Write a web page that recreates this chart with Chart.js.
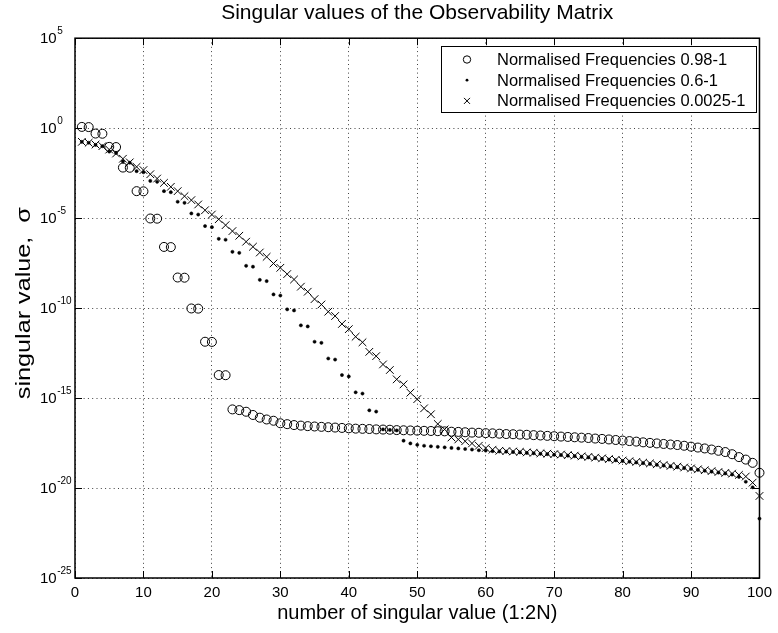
<!DOCTYPE html>
<html>
<head>
<meta charset="utf-8">
<script src="https://cdn.jsdelivr.net/npm/chart.js@4.4.0/dist/chart.umd.min.js"></script>
<style>
  html, body { margin: 0; padding: 0; background: #fff; }
  #wrap { width: 778px; height: 633px; }
</style>
</head>
<body>
<div id="wrap"><canvas id="svChart" width="778" height="633"></canvas></div>
<script>
// ============================================
// DATA (log10 of sigma)
// ============================================

// singular value number (1:2N)
const svIndex = [
    1, 2, 3, 4, 5, 6, 7, 8, 9, 10,
    11, 12, 13, 14, 15, 16, 17, 18, 19, 20,
    21, 22, 23, 24, 25, 26, 27, 28, 29, 30,
    31, 32, 33, 34, 35, 36, 37, 38, 39, 40,
    41, 42, 43, 44, 45, 46, 47, 48, 49, 50,
    51, 52, 53, 54, 55, 56, 57, 58, 59, 60,
    61, 62, 63, 64, 65, 66, 67, 68, 69, 70,
    71, 72, 73, 74, 75, 76, 77, 78, 79, 80,
    81, 82, 83, 84, 85, 86, 87, 88, 89, 90,
    91, 92, 93, 94, 95, 96, 97, 98, 99, 100
];

// Normalised Frequencies 0.98-1 (circles)
const logSigmaNarrow = [
    0.07, 0.06, -0.30, -0.31, -1.04, -1.05, -2.19, -2.20, -3.50, -3.51,
    -5.02, -5.03, -6.60, -6.61, -8.30, -8.31, -10.02, -10.03, -11.87, -11.88,
    -13.72, -13.73, -15.63, -15.67, -15.76, -15.94, -16.09, -16.19, -16.26, -16.40,
    -16.45, -16.50, -16.53, -16.56, -16.58, -16.60, -16.62, -16.64, -16.66, -16.68,
    -16.70, -16.71, -16.72, -16.74, -16.75, -16.76, -16.78, -16.79, -16.80, -16.81,
    -16.82, -16.83, -16.84, -16.85, -16.87, -16.88, -16.90, -16.92, -16.93, -16.95,
    -16.96, -16.98, -17.00, -17.01, -17.03, -17.04, -17.06, -17.08, -17.10, -17.12,
    -17.14, -17.16, -17.18, -17.20, -17.22, -17.25, -17.27, -17.30, -17.33, -17.36,
    -17.39, -17.42, -17.46, -17.49, -17.52, -17.55, -17.58, -17.61, -17.65, -17.70,
    -17.75, -17.80, -17.86, -17.93, -18.00, -18.12, -18.28, -18.42, -18.60, -19.15
];

// Normalised Frequencies 0.6-1 (dots)
const logSigmaMid = [
    -0.76, -0.81, -0.93, -1.00, -1.30, -1.38, -1.85, -1.92, -2.39, -2.45,
    -2.93, -2.98, -3.50, -3.56, -4.09, -4.15, -4.74, -4.80, -5.44, -5.50,
    -6.15, -6.20, -6.87, -6.93, -7.65, -7.70, -8.43, -8.50, -9.24, -9.30,
    -10.07, -10.13, -10.96, -11.02, -11.87, -11.93, -12.80, -12.86, -13.72, -13.80,
    -14.68, -14.75, -15.68, -15.75, -16.74, -16.77, -16.80, -17.37, -17.52, -17.60,
    -17.65, -17.68, -17.71, -17.74, -17.77, -17.80, -17.83, -17.86, -17.90, -17.92,
    -17.95, -17.97, -17.98, -18.00, -18.02, -18.05, -18.07, -18.10, -18.12, -18.15,
    -18.17, -18.20, -18.23, -18.27, -18.30, -18.34, -18.38, -18.42, -18.46, -18.50,
    -18.54, -18.58, -18.62, -18.66, -18.71, -18.75, -18.80, -18.84, -18.89, -18.94,
    -18.99, -19.04, -19.09, -19.14, -19.19, -19.25, -19.38, -19.65, -19.96, -21.70
];

// Normalised Frequencies 0.0025-1 (crosses)
const logSigmaWide = [
    -0.76, -0.81, -0.91, -1.00, -1.19, -1.41, -1.70, -1.90, -2.15, -2.33,
    -2.56, -2.80, -3.04, -3.26, -3.50, -3.78, -4.00, -4.24, -4.56, -4.80,
    -5.06, -5.39, -5.72, -5.98, -6.31, -6.59, -6.91, -7.15, -7.52, -7.76,
    -8.11, -8.41, -8.81, -9.09, -9.50, -9.80, -10.20, -10.44, -10.88, -11.17,
    -11.59, -11.90, -12.43, -12.67, -13.13, -13.44, -13.96, -14.24, -14.70, -15.06,
    -15.57, -15.90, -16.44, -16.74, -17.19, -17.30, -17.40, -17.52, -17.65, -17.78,
    -17.87, -17.93, -17.95, -17.97, -17.99, -18.02, -18.04, -18.07, -18.09, -18.12,
    -18.14, -18.17, -18.20, -18.24, -18.27, -18.31, -18.35, -18.39, -18.43, -18.47,
    -18.51, -18.55, -18.59, -18.63, -18.68, -18.72, -18.77, -18.81, -18.86, -18.91,
    -18.96, -19.01, -19.06, -19.11, -19.16, -19.20, -19.27, -19.36, -19.70, -20.44
];

const seriesNames = [
    'Normalised Frequencies 0.98-1',
    'Normalised Frequencies 0.6-1',
    'Normalised Frequencies 0.0025-1'
];

// y tick exponents (10^p)
const yTickPowers = [5, 0, -5, -10, -15, -20, -25];

const yAxisLabel = 'singular value,  σ';

const FONT = '"Liberation Sans", Arial, Helvetica, sans-serif';

// turn index + log10 list into scatter points
function toPoints(logs) {
    return svIndex.map((n, i) => ({ x: n, y: Math.pow(10, logs[i]) }));
}

// ============================================
// MATLAB-like frame: box, inward ticks, 10^p labels, legend
// ============================================
const matlabFrame = {
    id: 'matlabFrame',
    afterDraw(chart) {
        const ctx = chart.ctx;
        const area = chart.chartArea;
        const xs = chart.scales.x;
        const ys = chart.scales.y;
        const tickLen = 7;

        ctx.save();
        ctx.strokeStyle = '#000';
        ctx.lineWidth = 1;

        // inward tick marks on all four sides
        ctx.beginPath();
        xs.ticks.forEach(t => {
            const px = Math.round(xs.getPixelForValue(t.value)) + 0.5;
            ctx.moveTo(px, area.bottom); ctx.lineTo(px, area.bottom - tickLen);
            ctx.moveTo(px, area.top); ctx.lineTo(px, area.top + tickLen);
        });
        yTickPowers.forEach(p => {
            const py = Math.round(ys.getPixelForValue(Math.pow(10, p))) + 0.5;
            ctx.moveTo(area.left, py); ctx.lineTo(area.left + tickLen, py);
            ctx.moveTo(area.right, py); ctx.lineTo(area.right - tickLen, py);
        });
        ctx.stroke();

        // axes box
        ctx.lineWidth = 1.5;
        ctx.strokeRect(area.left, area.top, area.right - area.left, area.bottom - area.top);

        // y tick labels with superscript exponents
        ctx.fillStyle = '#000';
        ctx.textAlign = 'left';
        ctx.textBaseline = 'middle';
        yTickPowers.forEach(p => {
            const py = ys.getPixelForValue(Math.pow(10, p));
            ctx.font = '15px ' + FONT;
            ctx.fillText('10', 40, py + 1);
            const w = ctx.measureText('10').width;
            ctx.font = '10px ' + FONT;
            ctx.fillText(String(p), 40 + w + 0.5, py - 7);
        });

        // y axis label (rotated, a little stretched along its length like the original)
        ctx.save();
        ctx.translate(24, (area.top + area.bottom) / 2 - 5);
        ctx.rotate(-Math.PI / 2);
        ctx.scale(1.2, 1);
        ctx.font = '21px ' + FONT;
        ctx.textAlign = 'center';
        ctx.textBaseline = 'middle';
        ctx.fillText(yAxisLabel, 0, 0);
        ctx.restore();

        // legend box
        const lx = 441, ly = 46, lw = 315, lh = 66;
        ctx.fillStyle = '#fff';
        ctx.fillRect(lx, ly, lw, lh);
        ctx.lineWidth = 1;
        ctx.strokeRect(lx + 0.5, ly + 0.5, lw, lh);

        const rowY = [59.5, 80.2, 100.9];
        const mx = 467;
        ctx.fillStyle = '#000';
        ctx.font = '16.5px ' + FONT;
        ctx.textBaseline = 'middle';
        seriesNames.forEach((name, i) => {
            const y = rowY[i];
            ctx.beginPath();
            if (i === 0) {
                ctx.arc(mx, y, 3.7, 0, Math.PI * 2);
                ctx.stroke();
            } else if (i === 1) {
                ctx.arc(mx, y, 1.4, 0, Math.PI * 2);
                ctx.fill();
            } else {
                ctx.moveTo(mx - 3, y - 3); ctx.lineTo(mx + 3, y + 3);
                ctx.moveTo(mx - 3, y + 3); ctx.lineTo(mx + 3, y - 3);
                ctx.stroke();
            }
            ctx.fillText(name, 497, y + 1);
        });
        ctx.restore();
    }
};

// ============================================
// CHART
// ============================================
const ctx = document.getElementById('svChart').getContext('2d');

const svChart = new Chart(ctx, {
    type: 'scatter',
    data: {
        datasets: [
            {
                label: seriesNames[0],
                data: toPoints(logSigmaNarrow),
                pointStyle: 'circle',
                pointRadius: 4.5,
                pointBorderWidth: 1,
                pointBorderColor: '#000',
                pointBackgroundColor: 'rgba(0,0,0,0)',
                showLine: false,
                clip: false
            },
            {
                label: seriesNames[1],
                data: toPoints(logSigmaMid),
                pointStyle: 'circle',
                pointRadius: 1.6,
                pointBorderWidth: 0.5,
                pointBorderColor: '#000',
                pointBackgroundColor: '#000',
                showLine: false,
                clip: false
            },
            {
                label: seriesNames[2],
                data: toPoints(logSigmaWide),
                pointStyle: 'crossRot',
                pointRadius: 5.4,
                pointBorderWidth: 1,
                pointBorderColor: '#000',
                showLine: false,
                clip: false
            }
        ]
    },
    options: {
        responsive: false,
        devicePixelRatio: 1,
        animation: false,
        events: [],
        layout: {
            padding: { top: 0, right: 13, left: 0, bottom: 0 }
        },
        plugins: {
            legend: { display: false },
            tooltip: { enabled: false },
            title: {
                display: true,
                fullSize: false,
                text: 'Singular values of the Observability Matrix',
                color: '#000',
                font: { family: FONT, size: 21, weight: 'normal' },
                padding: { top: 1, bottom: 12 }
            }
        },
        scales: {
            x: {
                type: 'linear',
                min: 0,
                max: 100,
                ticks: {
                    stepSize: 10,
                    color: '#000',
                    font: { family: FONT, size: 15 },
                    padding: 6,
                    maxRotation: 0
                },
                grid: {
                    color: 'rgba(0,0,0,0.75)',
                    lineWidth: 1,
                    drawTicks: false
                },
                border: { display: false, dash: [1, 3.3] },
                title: {
                    display: true,
                    text: 'number of singular value (1:2N)',
                    color: '#000',
                    font: { family: FONT, size: 20 },
                    padding: { top: 0, bottom: 8 }
                },
                afterFit(scale) { scale.height = 55; }
            },
            y: {
                type: 'logarithmic',
                min: 1e-25,
                max: 1e5,
                afterBuildTicks(scale) {
                    scale.ticks = yTickPowers.map(p => ({ value: Math.pow(10, p) }));
                },
                ticks: { display: false },
                grid: {
                    color: 'rgba(0,0,0,0.75)',
                    lineWidth: 1,
                    drawTicks: false
                },
                border: { display: false, dash: [1, 3.3] },
                afterFit(scale) { scale.width = 75; }
            }
        }
    },
    plugins: [matlabFrame]
});
</script>
</body>
</html>
